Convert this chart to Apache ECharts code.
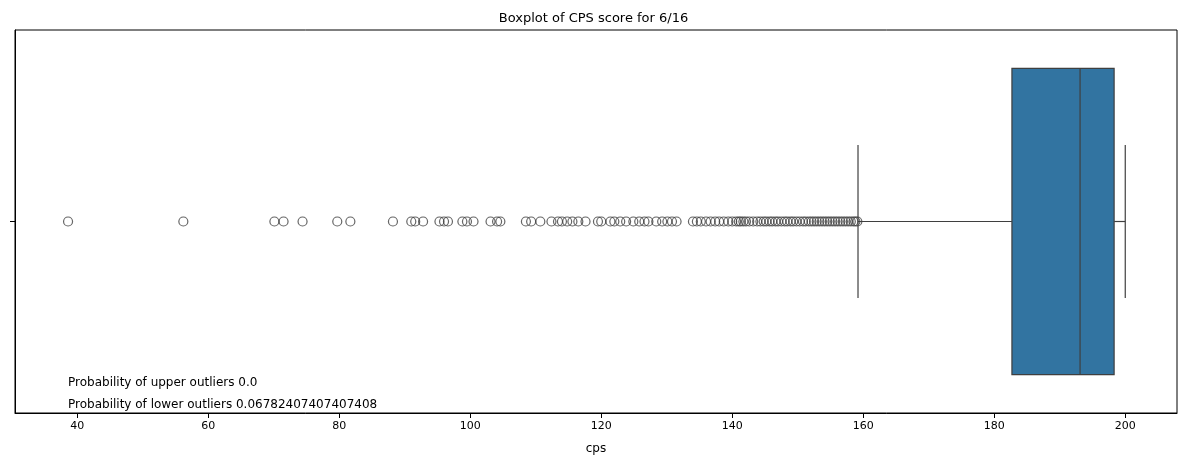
<!DOCTYPE html>
<html><head><meta charset="utf-8">
<script src="https://cdn.jsdelivr.net/npm/echarts@6/dist/echarts.min.js"></script>
<style>html,body{margin:0;padding:0;background:#fff}#c{width:1187px;height:468px}</style>
</head><body><div id="c"></div>
<script>
const categories = [''];
const boxStats = [159.2, 182.7, 193.1, 198.3, 200.0]; // lowWhisker, Q1, median, Q3, highWhisker
const outliers = [38.6,56.2,70.1,71.5,74.4,79.7,81.7,88.2,91.0,91.6,92.8,95.3,96.0,96.6,98.8,99.5,100.5,103.1,104.1,104.6,
108.5,109.3,110.7,112.4,113.4,114.0,114.8,115.6,116.5,117.6,119.5,120.0,121.4,122.0,122.9,123.8,124.9,125.8,126.6,127.2,
128.4,129.3,130.1,130.8,131.5,134.0,134.6,135.2,136.0,136.7,137.4,138.0,138.7,139.4,140.0,140.6,141.0,141.3,141.7,142.1,
142.6,143.2,143.8,144.3,144.8,145.2,145.7,146.1,146.6,147.0,147.5,148.0,148.4,148.9,149.3,149.8,150.3,150.8,151.2,151.7,
152.1,152.5,152.9,153.3,153.7,154.1,154.5,154.9,155.3,155.7,156.1,156.5,156.9,157.3,157.7,158.1,158.5,158.8,159.1];
const xTicks = [40,60,80,100,120,140,160,180,200];
const notes = ['Probability of upper outliers 0.0','Probability of lower outliers 0.06782407407407408'];

const chart = echarts.init(document.getElementById('c'));
const F = 'DejaVu Sans';
chart.setOption({
  animation:false,
  title:{text:'Boxplot of CPS score for 6/16',left:'center',top:7,textStyle:{fontFamily:F,fontSize:13,fontWeight:'normal',color:'#000'}},
  grid:{left:15,right:10,top:30,bottom:55},
  xAxis:{type:'value',min:30.5,max:207.9,interval:20,
    axisLine:{show:true,onZero:false,lineStyle:{color:'#000'}},
    axisTick:{show:true,customValues:xTicks,lineStyle:{color:'#000'}},
    axisLabel:{customValues:xTicks,color:'#000',fontFamily:F,fontSize:11},
    splitLine:{show:false},
    name:'cps',nameLocation:'middle',nameGap:30,nameTextStyle:{fontFamily:F,fontSize:12,color:'#000'}},
  yAxis:{type:'category',data:categories,boundaryGap:true,
    axisLine:{lineStyle:{color:'#000'}},axisTick:{show:true,alignWithLabel:true,lineStyle:{color:'#000'}},axisLabel:{show:false}},
  graphic:[
    {type:'rect',shape:{x:15,y:30,width:1162,height:383},style:{fill:'none',stroke:'#000',lineWidth:1},silent:true},
    {type:'text',left:68,top:377,style:{text:notes[0],fontFamily:F,fontSize:12,fill:'#000'}},
    {type:'text',left:68,top:399,style:{text:notes[1],fontFamily:F,fontSize:12,fill:'#000'}}
  ],
  series:[
    {type:'custom',data:[[0].concat(boxStats)],
     renderItem:function(params,api){
       const c=api.value(0);
       const band=api.size([0,1])[1];
       const yc=api.coord([boxStats[0],c])[1];
       const h=band*0.8, hw=h/4;
       const x=i=>api.coord([api.value(i),c])[0];
       const lo=x(1),q1=x(2),md=x(3),q3=x(4),hi=x(5);
       const ls={stroke:'#3f3f3f',lineWidth:1.2};
       return {type:'group',children:[
         {type:'line',shape:{x1:lo,y1:yc,x2:q1,y2:yc},style:ls},
         {type:'line',shape:{x1:q3,y1:yc,x2:hi,y2:yc},style:ls},
         {type:'line',shape:{x1:lo,y1:yc-hw,x2:lo,y2:yc+hw},style:ls},
         {type:'line',shape:{x1:hi,y1:yc-hw,x2:hi,y2:yc+hw},style:ls},
         {type:'rect',shape:{x:q1,y:yc-h/2,width:q3-q1,height:h},style:{fill:'#3274a1',stroke:'#3f3f3f',lineWidth:1.2}},
         {type:'line',shape:{x1:md,y1:yc-h/2,x2:md,y2:yc+h/2},style:ls}
       ]};
     }},
    {type:'scatter',data:outliers.map(v=>[v,0]),symbol:'circle',symbolSize:9,
     itemStyle:{color:'rgba(0,0,0,0)',borderColor:'#3f3f3f',borderWidth:1.2}}
  ]
});
</script></body></html>
